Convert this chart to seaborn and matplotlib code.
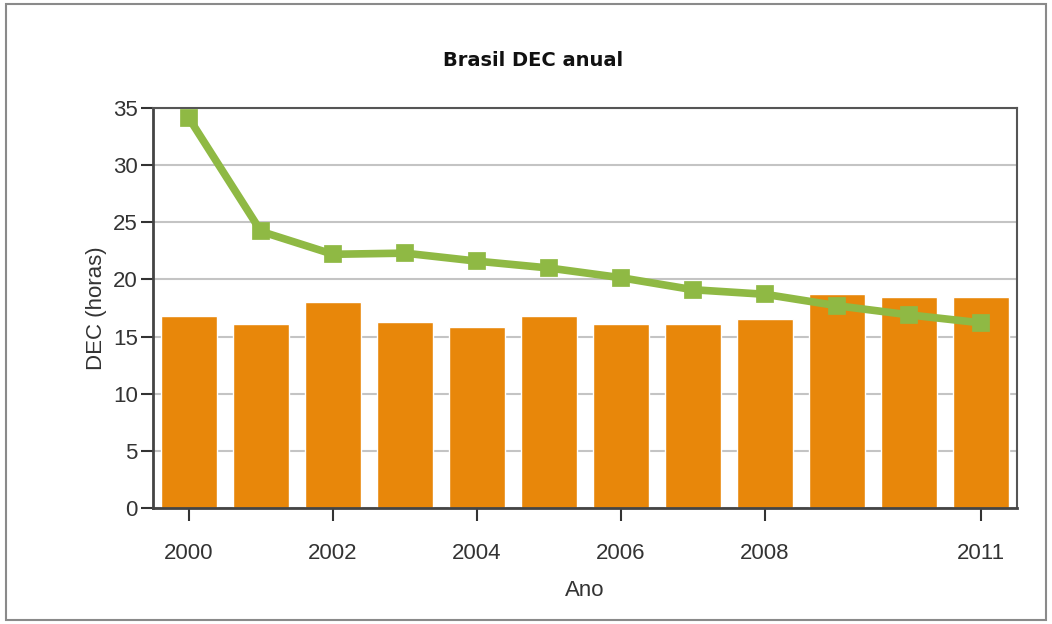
import seaborn as sns
import matplotlib.pyplot as plt
import pandas as pd
from matplotlib.patches import Rectangle

# dados
anos = ['2000', '2001', '2002', '2003', '2004', '2005',
        '2006', '2007', '2008', '2009', '2010', '2011']
dec_barras = [16.8, 16.1, 18.0, 16.3, 15.8, 16.8, 16.1, 16.1, 16.5, 18.7, 18.5, 18.5]
dec_linha = [34.1, 24.2, 22.2, 22.3, 21.6, 21.0, 20.15, 19.1, 18.7, 17.7, 16.9, 16.2]
anos_rotulo = ['2000', '2002', '2004', '2006', '2008', '2011']

df = pd.DataFrame({'ano': anos, 'barra': dec_barras, 'linha': dec_linha})

sns.set_style('white')
plt.rcParams['font.family'] = ['Liberation Sans', 'DejaVu Sans']

fig = plt.figure(figsize=(10.52, 6.24), dpi=100)
ax = fig.add_axes([153 / 1052, 1 - 508 / 624, 864 / 1052, 400 / 624])

sns.barplot(data=df, x='ano', y='barra', color='#e8870a', saturation=1,
            width=0.78, ax=ax, zorder=2)
sns.pointplot(data=df, x='ano', y='linha', color='#8fb944', markers='s',
              markersize=9, linewidth=5.5, ax=ax, zorder=3)

ax.set_ylim(0, 35)
ax.set_xlim(-0.5, 11.5)
ax.set_yticks(range(0, 36, 5))
ax.yaxis.grid(True, color='#c4c4c4', linewidth=1.5, zorder=0)
ax.set_axisbelow(True)

pos = [anos.index(a) for a in anos_rotulo]
ax.set_xticks(pos)
ax.set_xticklabels(anos_rotulo)
ax.tick_params(axis='both', direction='out', length=9, width=1.5,
               bottom=True, left=True,
               colors='#333333', labelsize=16, labelcolor='#333333', pad=2)
ax.tick_params(axis='x', pad=16)

for lado in ['left', 'bottom']:
    ax.spines[lado].set_color('#444444')
    ax.spines[lado].set_linewidth(2)
for lado in ['top', 'right']:
    ax.spines[lado].set_color('#555555')
    ax.spines[lado].set_linewidth(1.5)

ax.set_xlabel('Ano', fontsize=16, color='#333333', labelpad=12)
ax.set_ylabel('DEC (horas)', fontsize=16, color='#333333', labelpad=4)
fig.text(533 / 1052, 1 - 60 / 624, 'Brasil DEC anual', ha='center', va='center',
         fontsize=14, fontweight='bold', family='DejaVu Sans', color='#111111')

# moldura externa
fig.patches.append(Rectangle((0.006, 0.006), 0.988, 0.988, transform=fig.transFigure,
                             fill=False, edgecolor='#8a8a8a', linewidth=1.5))

plt.savefig('out.png', dpi=100)
